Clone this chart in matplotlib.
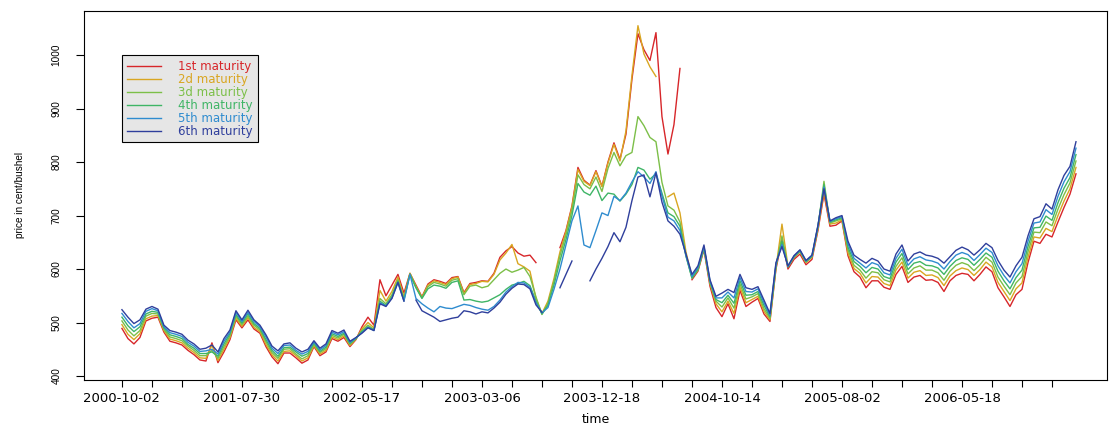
import numpy as np
import matplotlib
matplotlib.use("Agg")
import matplotlib.pyplot as plt

# observation number (trading days from 2000-10-02), sampled every 10 days
obs = np.arange(0, 1600, 10)

# prices in cent/bushel (None = no quote)
first = [
    489, 470, 460, 472, 503, 508, 510, 482, 465, 462,
    458, 448, 440, 430, 428, 462, 425, 445, 468, 505,
    490, 505, 488, 480, 455, 436, 423, 443, 443, 434,
    424, 430, 455, 438, 445, 470, 465, 472, 455, 468,
    492, 510, 495, 580, 550, 570, 590, 555, 592, 570,
    548, 572, 580, 577, 573, 584, 586, 556, 573, 575,
    578, 577, 592, 622, 634, 642, 630, 624, 626, 612,
    None, None, None, 640, 672, 718, 790, 766, 757, 784,
    755, 800, 836, 805, 852, 955, 1040, 1010, 990, 1042,
    885, 815, 870, 975, None, 580, 596, 636, 568, 528,
    511, 535, 507, 560, 530, 538, 545, 516, 502, 600,
    655, 600, 618, 628, 608, 618, 672, 740, 680, 682,
    690, 625, 595, 585, 565, 578, 578, 566, 562, 590,
    605, 575, 585, 588, 579, 580, 575, 558, 578, 588,
    592, 590, 578, 590, 604, 595, 565, 548, 530, 552,
    562, 612, 652, 648, 665, 660, 688, 715, 740, 778,
]
second = [
    496, 478, 468, 479, 507, 512, 513, 485, 469, 466,
    462, 452, 444, 434, 433, 458, 429, 450, 472, 508,
    493, 509, 491, 483, 459, 440, 428, 446, 447, 438,
    428, 434, 457, 441, 448, 473, 468, 475, 457, 469,
    488, 500, 490, 560, 540, 558, 585, 548, 592, 568,
    547, 570, 578, 575, 571, 582, 585, 554, 571, 573,
    577, 576, 590, 617, 630, 646, 610, 604, 596, 545,
    517, 540, 582, 632, 670, 716, 786, 764, 756, 782,
    754, 798, 833, 802, 858, 962, 1055, 1002, 978, 960,
    None, 735, 742, 705, 632, 585, 600, 640, 573, 535,
    520, 540, 517, 566, 537, 543, 549, 521, 505, 602,
    684, 605, 622, 632, 612, 622, 676, 745, 684, 686,
    692, 630, 601, 592, 574, 586, 585, 573, 569, 598,
    613, 583, 594, 597, 588, 589, 584, 569, 587, 597,
    602, 599, 588, 599, 613, 604, 575, 558, 541, 563,
    574, 622, 660, 658, 676, 670, 700, 727, 750, 790,
]
third = [
    503, 486, 475, 485, 512, 517, 516, 487, 473, 470,
    466, 456, 448, 438, 438, 448, 433, 455, 475, 512,
    496, 512, 495, 486, 464, 444, 433, 450, 451, 441,
    432, 438, 459, 444, 451, 476, 471, 478, 459, 470,
    485, 495, 487, 545, 535, 552, 580, 545, 591, 566,
    546, 567, 575, 572, 568, 579, 582, 552, 568, 570,
    565, 568, 580, 592, 600, 594, 598, 603, 586, 548,
    515, 536, 577, 625, 664, 710, 776, 758, 750, 772,
    745, 788, 818, 793, 812, 818, 885, 868, 846, 838,
    762, 718, 710, 688, 626, 583, 598, 638, 574, 540,
    529, 546, 527, 572, 544, 548, 554, 526, 508, 605,
    662, 604, 622, 633, 613, 623, 678, 764, 686, 690,
    694, 636, 607, 598, 583, 595, 593, 580, 576, 605,
    621, 591, 602, 606, 598, 598, 593, 579, 596, 607,
    612, 608, 597, 608, 622, 613, 585, 568, 552, 574,
    586, 632, 669, 668, 688, 681, 712, 739, 761, 802,
]
fourth = [
    510, 494, 483, 492, 516, 521, 519, 490, 477, 474,
    470, 459, 452, 442, 442, 445, 437, 460, 479, 515,
    499, 516, 498, 489, 468, 448, 437, 453, 454, 445,
    437, 442, 462, 446, 454, 479, 474, 480, 461, 470,
    483, 492, 486, 540, 532, 548, 577, 542, 590, 565,
    545, 563, 570, 568, 564, 575, 578, 542, 543, 540,
    538, 540, 546, 552, 562, 570, 573, 577, 569, 540,
    516, 532, 570, 615, 655, 700, 760, 744, 738, 755,
    728, 742, 740, 727, 740, 758, 790, 785, 768, 778,
    742, 705, 698, 680, 624, 583, 600, 640, 576, 543,
    537, 551, 536, 578, 551, 552, 558, 532, 511, 607,
    652, 604, 623, 634, 614, 624, 680, 758, 688, 692,
    696, 641, 614, 605, 593, 603, 600, 586, 582, 613,
    629, 599, 611, 614, 607, 606, 602, 590, 605, 616,
    621, 618, 607, 618, 630, 622, 596, 578, 563, 584,
    598, 642, 677, 678, 699, 691, 724, 751, 771, 814,
]
fifth = [
    517, 502, 490, 498, 521, 526, 522, 492, 481, 478,
    474, 463, 456, 446, 447, 450, 441, 465, 482, 519,
    502, 519, 502, 492, 473, 452, 442, 457, 458, 448,
    441, 446, 464, 449, 457, 482, 477, 483, 463, 471,
    481, 491, 485, 537, 531, 546, 575, 540, 590, 545,
    535, 527, 520, 530, 527, 526, 530, 534, 532, 528,
    525, 523, 530, 542, 557, 567, 575, 574, 566, 537,
    518, 528, 562, 600, 645, 690, 718, 645, 640, 672,
    705, 700, 736, 728, 742, 763, 782, 772, 760, 782,
    737, 697, 690, 672, 625, 586, 603, 642, 578, 546,
    546, 557, 546, 584, 558, 557, 563, 537, 514, 610,
    646, 605, 624, 635, 615, 625, 681, 753, 689, 694,
    698, 647, 620, 611, 602, 612, 608, 593, 589, 620,
    637, 607, 619, 623, 617, 615, 611, 600, 614, 626,
    631, 627, 616, 627, 639, 631, 606, 588, 574, 595,
    610, 652, 686, 688, 711, 702, 736, 763, 782, 826,
]
sixth = [
    524, 510, 498, 505, 525, 530, 525, 495, 485, 482,
    478, 467, 460, 450, 452, 458, 445, 470, 486, 522,
    505, 523, 505, 495, 477, 456, 447, 460, 462, 452,
    445, 450, 466, 452, 460, 485, 480, 486, 465, 472,
    480, 490, 485, 535, 530, 545, 575, 540, None, 542,
    522, 516, 510, 502, 505, 508, 510, 522, 520, 516,
    520, 518, 527, 538, 553, 564, 572, 571, 563, 533,
    519, None, None, 565, 590, 615, None, None, 578, 600,
    620, 642, 668, 651, 678, 728, 772, 776, 735, 780,
    725, 690, 680, 665, 628, 590, 606, 645, 580, 549,
    555, 562, 556, 590, 565, 562, 567, 542, 517, 612,
    642, 606, 625, 636, 616, 626, 682, 750, 690, 696,
    700, 652, 626, 618, 611, 620, 615, 600, 596, 628,
    645, 615, 628, 632, 626, 624, 620, 611, 623, 635,
    641, 636, 626, 636, 648, 640, 616, 598, 585, 606,
    622, 662, 694, 698, 722, 712, 748, 775, 792, 838,
]

series = [first, second, third, fourth, fifth, sixth]
names = ["1st maturity", "2d maturity", "3d maturity",
         "4th maturity", "5th maturity", "6th maturity"]
colors = ["#d7262a", "#d9a621", "#7cbf48", "#3fb566", "#2f8ccf", "#2f3f9c"]

# every 200th trading day gets a date label
tick_dates = ["2000-10-02", "2001-07-30", "2002-05-17", "2003-03-06",
              "2003-12-18", "2004-10-14", "2005-08-02", "2006-05-18"]

fig = plt.figure(figsize=(11.09, 4.28), dpi=100)
ax = fig.add_axes([0.0757, 0.1121, 0.9225, 0.8629])

for vals, name, col in zip(series, names, colors):
    ax.plot(obs, np.array(vals, dtype=float), color=col, lw=1.0, label=name)

ax.set_xlim(-63.3, 1641.7)
ax.set_ylim(392.5, 1083)

xt = np.arange(0, 1600, 50)
ax.set_xticks(xt)
ax.set_xticklabels([tick_dates[k // 4] if k % 4 == 0 else "" for k in range(len(xt))],
                   fontsize=9.5)
ax.set_yticks([400, 500, 600, 700, 800, 900, 1000])
ax.set_yticklabels(["400", "500", "600", "700", "800", "900", "1000"],
                   rotation=90, va="center", fontsize=7.2, family="Liberation Sans")
ax.tick_params(axis="x", length=5, width=0.8, pad=3.5)
ax.tick_params(axis="y", length=6, width=0.8, pad=10)
for s in ax.spines.values():
    s.set_linewidth(0.8)

ax.set_xlabel("time", fontsize=9)
ax.xaxis.set_label_coords(0.5, -0.088)
ax.set_ylabel("price in cent/bushel", fontsize=7.2, family="Liberation Sans")
ax.yaxis.set_label_coords(-0.058, 0.5)

leg = ax.legend(loc="upper left", bbox_to_anchor=(0.037, 0.880), borderaxespad=0,
                fontsize=8.5, fancybox=False, facecolor="#e6e6e6", edgecolor="black",
                framealpha=1, handlelength=2.9, handletextpad=1.5, labelspacing=0.0,
                borderpad=0.4, labelcolor="linecolor")
leg.get_frame().set_linewidth(0.8)

fig.savefig("out.png", dpi=100)
